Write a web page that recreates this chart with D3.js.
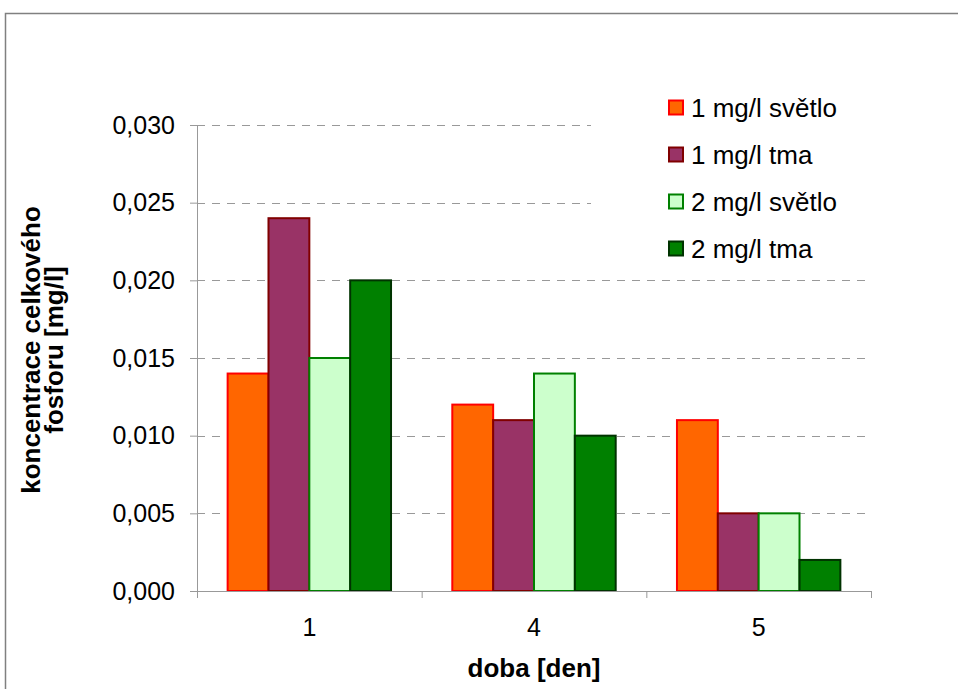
<!DOCTYPE html>
<html lang="cs">

<head>
  <meta charset="UTF-8">
  <script src="https://cdn.jsdelivr.net/npm/d3@7"></script>
  <title>koncentrace celkového fosforu</title>
  <style>
    body { margin: 0; background: #fff; }
    text { font-family: "Liberation Sans", Arial, sans-serif; fill: #000; }
  </style>
</head>

<body>
  <svg width="958" height="689"></svg>
</body>
<script>
  // data
  const days = ["1", "4", "5"];
  const seriesNames = ["1 mg/l světlo", "1 mg/l tma", "2 mg/l světlo", "2 mg/l tma"];
  const light1 = [0.014, 0.012, 0.011];
  const dark1 = [0.024, 0.011, 0.005];
  const light2 = [0.015, 0.014, 0.005];
  const dark2 = [0.020, 0.010, 0.002];
  const yTicks = [0, 0.005, 0.010, 0.015, 0.020, 0.025, 0.030];

  const seriesValues = [light1, dark1, light2, dark2];
  const fills = ["#ff6600", "#993366", "#ccffcc", "#008000"];
  const strokes = ["#ff0000", "#800000", "#008000", "#003300"];

  const svg = d3.select("svg");
  const margin = { left: 197, top: 125, right: 87, bottom: 98 };
  const width = +svg.attr("width");
  const height = +svg.attr("height");
  const innerWidth = width - margin.left - margin.right;
  const innerHeight = height - margin.top - margin.bottom;

  // ramecek grafu
  svg.append("path")
    .attr("d", "M5.5,689 V13.5 H958")
    .attr("fill", "none")
    .attr("stroke", "#808080")
    .attr("stroke-width", 1.5);

  const chart = svg.append("g")
    .attr("transform", "translate(" + margin.left + "," + margin.top + ")");

  const x0 = d3.scaleBand().domain(days).range([0, innerWidth]);
  // mezera mezi skupinami = 150 % sirky sloupce
  const x1 = d3.scaleBand().domain(d3.range(4)).range([0, x0.bandwidth()]).paddingOuter(0.75);
  const y = d3.scaleLinear().domain([0, 0.03]).range([innerHeight, 0]);

  // mrizka
  chart.append("g")
    .selectAll("line")
    .data(yTicks.slice(1))
    .join("line")
    .attr("x1", 0)
    .attr("x2", innerWidth)
    .attr("y1", d => Math.round(y(d)) + 0.5)
    .attr("y2", d => Math.round(y(d)) + 0.5)
    .attr("stroke", "#999")
    .attr("stroke-dasharray", "8,7");

  // sloupce
  const groups = chart.append("g")
    .selectAll("g")
    .data(seriesValues)
    .join("g");

  groups.selectAll("rect")
    .data((vals, i) => vals.map((v, j) => ({ v, i, day: days[j] })))
    .join("rect")
    .attr("x", d => x0(d.day) + x1(d.i))
    .attr("y", d => y(d.v))
    .attr("width", x1.bandwidth())
    .attr("height", d => innerHeight - y(d.v))
    .attr("fill", d => fills[d.i])
    .attr("stroke", d => strokes[d.i])
    .attr("stroke-width", 2);

  // osa y
  const yAxis = chart.append("g")
    .call(d3.axisLeft(y).tickValues(yTicks).tickSize(7).tickPadding(15)
      .tickFormat(d => d3.format(".3f")(d).replace(".", ",")));
  yAxis.select(".domain").attr("stroke", "#999").attr("d", "M0.5," + innerHeight + "V0");
  yAxis.selectAll(".tick line").attr("stroke", "#999");
  yAxis.selectAll(".tick text").style("font-size", "25px");

  // osa x
  const xAxis = chart.append("g")
    .attr("transform", "translate(0," + innerHeight + ")")
    .call(d3.axisBottom(x0).tickSize(0).tickPadding(27));
  xAxis.select(".domain").attr("stroke", "#999");
  xAxis.selectAll(".tick text").style("font-size", "25px");
  xAxis.selectAll(".sep")
    .data([0, 1, 2, 3])
    .join("line")
    .attr("x1", i => i * x0.step() + 0.5)
    .attr("x2", i => i * x0.step() + 0.5)
    .attr("y1", 0)
    .attr("y2", 7)
    .attr("stroke", "#999");

  // popisky os
  svg.append("text")
    .attr("x", margin.left + innerWidth / 2)
    .attr("y", 677)
    .attr("text-anchor", "middle")
    .style("font-size", "26px")
    .style("font-weight", "bold")
    .text("doba [den]");

  const yTitle = svg.append("text")
    .attr("transform", "translate(40,350) rotate(-90)")
    .attr("text-anchor", "middle")
    .style("font-size", "26px")
    .style("font-weight", "bold");
  yTitle.append("tspan").attr("x", 0).attr("dy", 0).text("koncentrace celkového");
  yTitle.append("tspan").attr("x", 0).attr("dy", 23).text("fosforu [mg/l]");

  // legenda
  const legend = svg.append("g");
  legend.append("rect")
    .attr("x", 591)
    .attr("y", 80)
    .attr("width", 285)
    .attr("height", 190)
    .attr("fill", "#fff");

  const items = legend.selectAll(".item")
    .data(seriesNames)
    .join("g")
    .attr("transform", (d, i) => "translate(669," + (107.5 + i * 47) + ")");
  items.append("rect")
    .attr("x", 0)
    .attr("y", -7)
    .attr("width", 14)
    .attr("height", 14)
    .attr("fill", (d, i) => fills[i])
    .attr("stroke", (d, i) => strokes[i])
    .attr("stroke-width", 2);
  items.append("text")
    .attr("x", 22)
    .attr("y", 9)
    .style("font-size", "26px")
    .text(d => d);
</script>

</html>
